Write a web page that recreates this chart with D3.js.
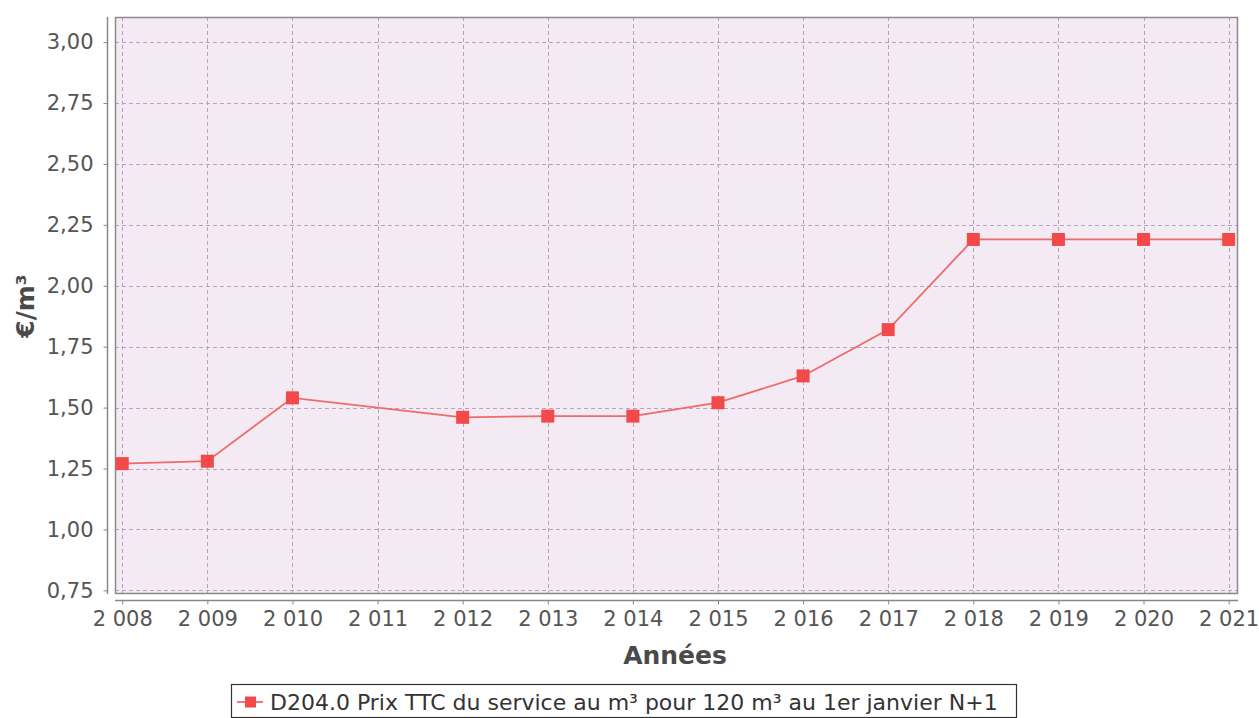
<!DOCTYPE html>
<html>
<head>
<meta charset="utf-8">
<script src="https://cdn.jsdelivr.net/npm/d3@7"></script>
<style>
  body { margin: 0; background: #fff; }
  svg { display: block; font-family: "DejaVu Sans", sans-serif; }
</style>
</head>
<body>
<svg id="chart"></svg>
<script>
const years = [2008, 2009, 2010, 2011, 2012, 2013, 2014, 2015, 2016, 2017, 2018, 2019, 2020, 2021];
// 2011 has no value: the line jumps straight from 2010 to 2012
const prices = [1.27, 1.28, 1.54, null, 1.46, 1.465, 1.465, 1.52, 1.63, 1.82, 2.19, 2.19, 2.19, 2.19];
const yTicks = [0.75, 1.00, 1.25, 1.50, 1.75, 2.00, 2.25, 2.50, 2.75, 3.00];
const seriesName = "D204.0 Prix TTC du service au m³ pour 120 m³ au 1er janvier N+1";

const width = 1259, height = 718;
const plot = { left: 115, right: 1238, top: 17, bottom: 594 };

const svg = d3.select("#chart").attr("width", width).attr("height", height);

const x = d3.scaleLinear()
  .domain([2007.915, 2021.11])
  .range([plot.left, plot.right]);

const y = d3.scaleLinear()
  .domain([0.735, 3.103])
  .range([plot.bottom, plot.top]);

// plot background
svg.append("rect")
  .attr("x", plot.left).attr("y", plot.top)
  .attr("width", plot.right - plot.left).attr("height", plot.bottom - plot.top)
  .attr("fill", "#f3eaf3");

// grid
const grid = svg.append("g")
  .attr("stroke", "#b8a2bc")
  .attr("stroke-width", 1)
  .attr("stroke-dasharray", "4,3");

grid.selectAll("line.h")
  .data(yTicks)
  .enter()
  .append("line")
  .attr("class", "h")
  .attr("x1", plot.left).attr("x2", plot.right)
  .attr("y1", d => Math.round(y(d)) + 0.5).attr("y2", d => Math.round(y(d)) + 0.5);

grid.selectAll("line.v")
  .data(years)
  .enter()
  .append("line")
  .attr("class", "v")
  .attr("y1", plot.top).attr("y2", plot.bottom)
  .attr("x1", d => Math.round(x(d)) + 0.5).attr("x2", d => Math.round(x(d)) + 0.5);

// plot border
svg.append("rect")
  .attr("x", plot.left + 0.5).attr("y", plot.top + 0.5)
  .attr("width", plot.right - plot.left - 1).attr("height", plot.bottom - plot.top - 1)
  .attr("fill", "none")
  .attr("stroke", "#8a8a8a")
  .attr("stroke-width", 1.5);

// y axis, offset to the left of the plot
const yAxis = svg.append("g")
  .attr("transform", "translate(107.5,0)")
  .call(d3.axisLeft(y).tickValues(yTicks).tickSize(4).tickPadding(10)
    .tickFormat(d => d3.format(".2f")(d).replace(".", ",")));

yAxis.select(".domain")
  .attr("d", `M0,${plot.top}V${plot.bottom}`)
  .attr("stroke", "#888").attr("stroke-width", 1.5);
yAxis.selectAll(".tick line").attr("stroke", "#888");
yAxis.selectAll(".tick text")
  .attr("fill", "#555")
  .style("font-size", "21px")
  .style("font-family", "DejaVu Sans, sans-serif");

// x axis, offset below the plot
const xAxis = svg.append("g")
  .attr("transform", "translate(0,600.5)")
  .call(d3.axisBottom(x).tickValues(years).tickSize(4).tickPadding(7)
    .tickFormat(d => String(d).replace(/^(\d)(\d{3})$/, "$1 $2")));

xAxis.select(".domain")
  .attr("d", `M${plot.left},0H${plot.right}`)
  .attr("stroke", "#888").attr("stroke-width", 1.5);
xAxis.selectAll(".tick line").attr("stroke", "#888");
xAxis.selectAll(".tick text")
  .attr("fill", "#555")
  .style("font-size", "21px")
  .style("font-family", "DejaVu Sans, sans-serif");

// axis titles
svg.append("text")
  .attr("x", 675).attr("y", 664)
  .attr("text-anchor", "middle")
  .style("font-size", "25px")
  .style("font-weight", "bold")
  .attr("fill", "#4a4a4a")
  .text("Années");

svg.append("text")
  .attr("transform", "translate(34,306) rotate(-90)")
  .attr("text-anchor", "middle")
  .style("font-size", "25px")
  .style("font-weight", "bold")
  .attr("fill", "#4a4a4a")
  .text("€/m³");

// series
const points = years.map((yr, i) => ({ year: yr, value: prices[i] })).filter(d => d.value != null);

const line = d3.line()
  .x(d => x(d.year))
  .y(d => y(d.value));

svg.append("path")
  .datum(points)
  .attr("d", line)
  .attr("fill", "none")
  .attr("stroke", "#f06a6a")
  .attr("stroke-width", 1.8);

svg.selectAll("rect.marker")
  .data(points)
  .enter()
  .append("rect")
  .attr("class", "marker")
  .attr("x", d => x(d.year) - 6.5)
  .attr("y", d => y(d.value) - 6.5)
  .attr("width", 13)
  .attr("height", 13)
  .attr("fill", "#f24a4a");

// legend
const legend = svg.append("g");
legend.append("rect")
  .attr("x", 231.5).attr("y", 684.5)
  .attr("width", 785).attr("height", 33)
  .attr("fill", "#fff")
  .attr("stroke", "#333")
  .attr("stroke-width", 1.2);
legend.append("line")
  .attr("x1", 237).attr("x2", 263)
  .attr("y1", 702).attr("y2", 702)
  .attr("stroke", "#f06a6a").attr("stroke-width", 1.8);
legend.append("rect")
  .attr("x", 245).attr("y", 696.5)
  .attr("width", 11).attr("height", 11)
  .attr("fill", "#f24a4a");
legend.append("text")
  .attr("x", 270).attr("y", 710)
  .style("font-size", "22px")
  .attr("fill", "#333")
  .text(seriesName);
</script>
</body>
</html>
